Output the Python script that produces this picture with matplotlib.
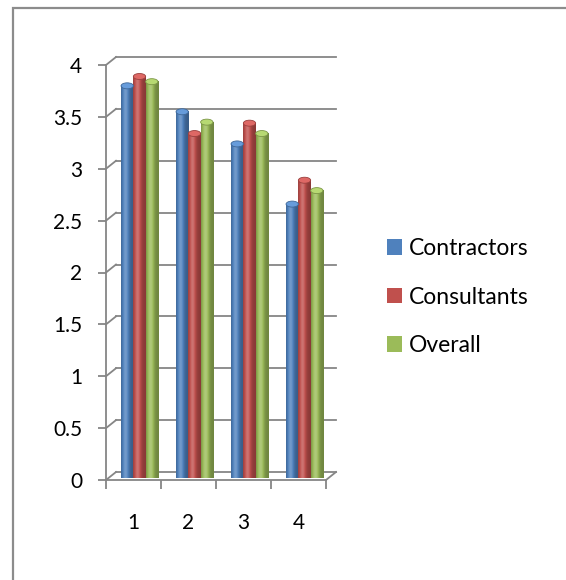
import numpy as np
import matplotlib.pyplot as plt
from matplotlib.patches import Rectangle, Ellipse, Patch
from matplotlib.colors import to_rgb

plt.rcParams['font.family'] = ['Lato', 'DejaVu Sans']

# --- data ---
categories = ['1', '2', '3', '4']
series_names = ['Contractors', 'Consultants', 'Overall']
contractors = [3.78, 3.53, 3.22, 2.64]
consultants = [3.87, 3.32, 3.42, 2.87]
overall = [3.82, 3.43, 3.32, 2.77]
y_ticks = [0, 0.5, 1, 1.5, 2, 2.5, 3, 3.5, 4]
y_tick_labels = ['0', '0.5', '1', '1.5', '2', '2.5', '3', '3.5', '4']

colors = ['#4F81BD', '#C0504D', '#9BBB59']
grid_col = '#868686'

W, H = 566, 580
fig = plt.figure(figsize=(W / 100, H / 100), dpi=100)

# front plane of the pseudo-3D box, in pixels
x_left, x_right = 106, 326
y_zero, y_four = 480, 65
ax = fig.add_axes([x_left / W, 1 - y_zero / H, (x_right - x_left) / W, (y_zero - y_four) / H])
ax.set_xlim(0.5, 4.5)
ax.set_ylim(0, 4)
ax.patch.set_visible(False)

px_x = (x_right - x_left) / 4.0     # pixels per x unit
px_y = (y_zero - y_four) / 4.0      # pixels per y unit
back_dx, back_dy = 10 / px_x, 8 / px_y
bar_dx, bar_dy = 6 / px_x, 2 / px_y

# back wall gridlines + side wall diagonals
for yv in y_ticks:
    ax.plot([0.5 + back_dx, 4.5 + back_dx], [yv + back_dy, yv + back_dy],
            color=grid_col, lw=1.3, clip_on=False, zorder=1)
    ax.plot([0.5, 0.5 + back_dx], [yv, yv + back_dy],
            color=grid_col, lw=1.3, clip_on=False, zorder=1)
ax.plot([4.5, 4.5 + back_dx], [0, back_dy], color=grid_col, lw=1.3, clip_on=False, zorder=1)

# bars (cylinders)
width = 12.3 / px_x
x = np.arange(1, len(categories) + 1)
offsets = [-width, 0, width]
cap_h = 6 / px_y
shade = np.linspace(0, 1, 64)
profile = 0.72 + 0.45 * np.exp(-((shade - 0.35) / 0.28) ** 2)

for vals, off, col in zip([contractors, consultants, overall], offsets, colors):
    base = np.array(to_rgb(col))
    grad = np.clip(base[None, :] * profile[:, None], 0, 1)
    grad = np.where(profile[:, None] > 1, base + (1 - base) * (profile[:, None] - 1) * 1.2, grad)
    grad = np.clip(grad, 0, 1)[None, :, :]
    bars = ax.bar(x + off + bar_dx, vals, width, bottom=bar_dy, color=col,
                  edgecolor='none', zorder=3, clip_on=False)
    for b, v in zip(bars, vals):
        x0 = b.get_x()
        im = ax.imshow(grad, extent=(x0, x0 + width, bar_dy, v + bar_dy),
                       aspect='auto', zorder=4, clip_on=False)
        im.set_clip_path(b)
        cap = Ellipse((x0 + width / 2, v + bar_dy), width, cap_h,
                      facecolor=np.clip(base * 1.05 + 0.08, 0, 1),
                      edgecolor=np.clip(base * 0.8, 0, 1), lw=0.6, zorder=5, clip_on=False)
        ax.add_patch(cap)
ax.set_xlim(0.5, 4.5)
ax.set_ylim(0, 4)

# front axes
for s in ['top', 'right']:
    ax.spines[s].set_visible(False)
for s in ['left', 'bottom']:
    ax.spines[s].set_color(grid_col)
    ax.spines[s].set_linewidth(1.3)
ax.set_yticks(y_ticks)
ax.set_yticklabels(y_tick_labels)
ax.tick_params(axis='y', length=6, width=1.3, color=grid_col, pad=11, labelsize=15)
ax.set_xticks([0.5, 1.5, 2.5, 3.5, 4.5])
ax.set_xticklabels([])
ax.set_xticks(x, minor=True)
ax.set_xticklabels(categories, minor=True)
ax.tick_params(axis='x', which='major', length=6.5, width=1.3, color=grid_col)
ax.tick_params(axis='x', which='minor', length=0, pad=24, labelsize=15)

# legend
handles = [Patch(facecolor=c, edgecolor='none') for c in colors]
fig.legend(handles, series_names, loc='center left', bbox_to_anchor=(387 / W, 1 - 297 / H),
           frameon=False, fontsize=16.5, handlelength=0.65, handleheight=0.65,
           handletextpad=0.3, labelspacing=1.2, borderpad=0, borderaxespad=0)

# outer chart border (runs off the right and bottom edges)
fig.patches.append(Rectangle((13 / W, -0.5), 5, 1 - 8 / H + 0.5, transform=fig.transFigure,
                             fill=False, edgecolor='#8c8c8c', lw=1.6))

fig.savefig('out.png', dpi=100)
